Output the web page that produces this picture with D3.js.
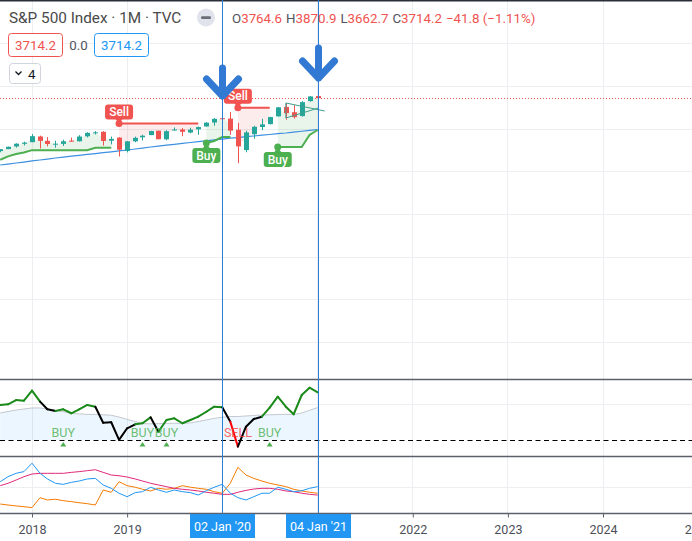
<!DOCTYPE html>
<html><head><meta charset="utf-8">
<script src="https://cdn.jsdelivr.net/npm/d3@7"></script>
<style>
html,body{margin:0;padding:0;background:#fff;}
svg{display:block;font-family:Roboto,"Noto Sans",sans-serif;}
</style></head><body>
<svg id="c" width="692" height="541"></svg>
<script>
// ---------------- DATA ----------------
const months = ["2017-09-01","2017-10-01","2017-11-01","2017-12-01",
"2018-01-01","2018-02-01","2018-03-01","2018-04-01","2018-05-01","2018-06-01","2018-07-01","2018-08-01","2018-09-01","2018-10-01","2018-11-01","2018-12-01",
"2019-01-01","2019-02-01","2019-03-01","2019-04-01","2019-05-01","2019-06-01","2019-07-01","2019-08-01","2019-09-01","2019-10-01","2019-11-01","2019-12-01",
"2020-01-01","2020-02-01","2020-03-01","2020-04-01","2020-05-01","2020-06-01","2020-07-01","2020-08-01","2020-09-01","2020-10-01","2020-11-01","2020-12-01",
"2021-01-01"];
const openP  = [2474.4,2521.2,2583.2,2645.1,2683.7,2816.5,2715.2,2633.5,2643.6,2718.7,2705.0,2821.2,2897.0,2926.3,2717.6,2790.5,2477.0,2702.3,2798.2,2848.6,2952.3,2751.5,2971.4,2980.3,2909.0,2983.7,3050.7,3143.9,3244.7,3235.7,2974.3,2498.1,2869.1,3038.8,3105.9,3288.3,3507.4,3385.9,3296.2,3645.9,3764.6];
const highP  = [2519.4,2582.0,2657.7,2695.0,2872.9,2836.0,2801.9,2717.5,2742.2,2791.5,2848.0,2916.5,2940.9,2939.9,2815.2,2800.2,2709.0,2813.5,2860.3,2949.5,2954.1,2964.2,3028.0,3013.6,3022.0,3050.1,3154.3,3247.9,3337.8,3393.5,3136.7,2954.9,3068.7,3233.1,3280.0,3509.4,3588.1,3549.9,3646.0,3760.2,3870.9];
const lowP   = [2446.6,2520.4,2557.4,2605.5,2682.4,2532.7,2585.9,2553.8,2594.6,2692.0,2699.0,2796.3,2864.1,2603.5,2631.1,2346.6,2444.0,2681.8,2722.3,2848.6,2750.5,2728.8,2952.2,2822.1,2891.9,2855.9,3050.7,3070.3,3214.6,2855.8,2191.9,2447.5,2766.6,2965.7,3101.2,3284.5,3209.5,3233.9,3279.7,3633.4,3662.7];
const closeP = [2519.4,2575.3,2647.6,2673.6,2823.8,2713.8,2640.9,2648.1,2705.3,2718.4,2816.3,2901.5,2914.0,2711.7,2760.2,2506.9,2704.1,2784.5,2834.4,2945.8,2752.1,2941.8,2980.4,2926.5,2976.7,3037.6,3141.0,3230.8,3225.5,2954.2,2584.6,2912.4,3044.3,3100.3,3271.1,3500.3,3363.0,3270.0,3621.6,3756.1,3714.2];
// long moving average (blue)
const maLine = [2149,2171,2196,2218,2243,2266,2288,2313,2335,2357,2376,2398,2417,2439,2458,2480,2500,2524,2546,2571,2593,2615,2634,2656,2676,2698,2716,2739,2757,2777,2792,2812,2828,2847,2863,2882,2899,2920,2939,2961,2981];
// trailing stop (green = long, red = short)
const upStop = [2270,2350,2405,2440,2497,2497,2497,2497,2497,2497,2497,2497,2550,2550,2550,null,null,null,null,null,null,null,null,null,null,null,2664,2711,2805,2805,null,null,null,null,null,2570,2570,2570,2570,2852,2969];
const dnStop = [null,null,null,null,null,null,null,null,null,null,null,null,null,null,null,3121,3121,3121,3121,3121,3121,3121,3121,3121,3121,3121,null,null,null,null,3490,3490,3490,3490,3490,null,null,null,null,null,null];
const buyMonths  = ["2019-11-01","2020-08-01"];
const sellMonths = ["2018-12-01","2020-03-01"];
// oscillator pane
const oscLine = [68.9,69.7,74.4,73.7,84.8,72.6,64.1,62.2,64.1,59.7,64.1,68.9,67.0,49.2,49.7,30.2,43.0,47.4,48.6,55.2,39.2,52.2,54.1,48.6,52.2,55.9,61.4,67.0,66.3,50.3,22.6,44.8,53.3,55.9,65.9,78.1,67.0,58.6,80.0,88.1,83.0];
const oscSignal = [60.0,61.7,63.3,64.4,65.6,65.6,64.5,63.0,61.5,59.5,59.0,58.5,58.5,58.0,57.5,55.5,53.0,50.5,48.2,48.0,48.2,48.5,48.6,48.4,49.0,50.5,52.3,54.0,55.3,56.1,56.1,56.7,57.2,57.8,58.0,58.3,58.5,58.2,60.0,63.0,66.0];
const oscLevel = 30;
const sigMonths = ["2018-05-01","2019-03-01","2019-06-01","2020-03-01","2020-07-01"];
const sigTypes  = ["BUY","BUY","BUY","SELL","BUY"];
// DMI pane
const diPlus  = [24.4,28.6,31.4,32.8,39.8,31.4,26.7,23.1,22.2,23.9,25.0,26.7,27.2,21.7,18.9,14.8,11.9,15.3,16.1,19.8,17.5,15.6,17.5,16.1,15.3,13.3,16.9,19.8,22.2,14.8,11.1,9.2,11.9,14.8,14.8,19.8,18.1,16.1,16.9,18.9,20.3];
const adx     = [21.1,23.1,25.8,28.6,30.8,31.4,31.4,31.4,31.4,32.2,32.8,33.6,34.4,32.2,30.0,29.4,28.3,26.7,25.0,23.1,21.7,20.3,18.9,18.1,17.5,16.7,15.6,14.8,13.9,13.9,15.6,17.2,18.3,18.9,18.9,18.1,16.7,16.1,14.8,13.9,13.3];
const diMinus = [5.8,5.0,4.2,3.6,2.8,11.1,9.2,9.8,8.6,7.8,6.9,6.1,5.0,17.5,15.6,24.4,21.1,19.8,18.1,16.7,18.9,18.1,18.9,21.1,19.8,18.9,18.1,16.1,14.8,23.1,36.4,30.0,27.2,25.0,23.1,21.7,20.3,18.1,16.7,15.6,14.8];
// drawings
const vLineDates  = ["2020-01-02","2021-01-04"];
const vLineLabels = ["02 Jan '20","04 Jan '21"];
const arrowTop = [4422,4891];
const arrowTip = [3766,4187];
const wedgeUpper = [["2020-09-01",3602],["2021-01-28",3414]];
const wedgeLower = [["2020-09-01",3250],["2021-01-04",3484]];
const priceTicks = [5000,4000,3000,2000,1000,0,-1000,-2000];
const gridYears = ["2017","2018","2019","2020","2021","2022","2023","2024","2025"];
const labelYears = ["2018","2019","2022","2023","2024","2025"];
const header = {title:"S&P 500 Index · 1M · TVC", o:"3764.6", h:"3870.9", l:"3662.7", c:"3714.2", chg:"−41.8 (−1.11%)", last:"3714.2", zero:"0.0", count:"4"};

// ---------------- SETUP ----------------
const W=692,H=541;
const UP="#26a69a", DN="#ef5350", GRID="#eceef2", SEP="#5d606b";
const parse=d3.timeParse("%Y-%m-%d");
const x=d3.scaleTime().domain([parse("2018-01-01"),parse("2024-01-01")]).range([32,603]);
const yP=d3.scaleLinear().domain([4000,-2000]).range([86,342]);
const yR=d3.scaleLinear().domain([30,70]).range([440,404]);
const yD=d3.scaleLinear().domain([0,20]).range([511,487]);
const P={main:[0,379.5],osc:[379.5,456.5],dmi:[456.5,513]};
const svg=d3.select("#c");
svg.append("rect").attr("width",W).attr("height",H).attr("fill","#fff");
const defs=svg.append("defs");
Object.entries(P).forEach(([k,[a,b]])=>{
  defs.append("clipPath").attr("id","clip-"+k).append("rect").attr("x",0).attr("y",a).attr("width",W).attr("height",b-a);
});
const bars=months.map((m,i)=>({d:parse(m),o:openP[i],h:highP[i],l:lowP[i],c:closeP[i],
  ma:maLine[i],up:upStop[i],dn:dnStop[i],mid:(openP[i]+highP[i]+lowP[i]+closeP[i])/4,
  osc:oscLine[i],sig:oscSignal[i],pdi:diPlus[i],adx:adx[i],mdi:diMinus[i]}));
const px5=v=>Math.floor(v)+0.5;

// grid
const gGrid=svg.append("g");
gridYears.forEach(t=>{
  const xx=px5(x(parse(t+"-01-01")));
  gGrid.append("line").attr("x1",xx).attr("x2",xx).attr("y1",0).attr("y2",513).attr("stroke",GRID);
});
priceTicks.forEach(p=>{
  const yy=Math.round(yP(p))+0.5;
  if(yy>2&&yy<378) gGrid.append("line").attr("x1",0).attr("x2",W).attr("y1",yy).attr("y2",yy).attr("stroke",GRID);
});
[yR(70),yD(20)].forEach(yy=>{
  yy=Math.round(yy)+0.5;
  gGrid.append("line").attr("x1",0).attr("x2",W).attr("y1",yy).attr("y2",yy).attr("stroke",GRID);
});

// ---------------- MAIN PANE ----------------
const gM=svg.append("g").attr("clip-path","url(#clip-main)");
const X=d=>x(d.d);
gM.append("path").datum(bars).attr("fill","rgba(76,175,80,0.12)")
  .attr("d",d3.area().defined(d=>d.up!=null).x(X).y0(d=>yP(d.mid)).y1(d=>yP(d.up)));
gM.append("path").datum(bars).attr("fill","rgba(239,83,80,0.11)")
  .attr("d",d3.area().defined(d=>d.dn!=null).x(X).y0(d=>yP(d.mid)).y1(d=>yP(d.dn)));
gM.append("path").datum(bars).attr("fill","none").attr("stroke","#3d8fe0").attr("stroke-width",1.2)
  .attr("d",d3.line().x(X).y(d=>yP(d.ma)));
gM.append("path").datum(bars).attr("fill","none").attr("stroke","#4caf50").attr("stroke-width",2)
  .attr("d",d3.line().defined(d=>d.up!=null).x(X).y(d=>yP(d.up)));
gM.append("path").datum(bars).attr("fill","none").attr("stroke","#ef5350").attr("stroke-width",2)
  .attr("d",d3.line().defined(d=>d.dn!=null).x(X).y(d=>yP(d.dn)));
const lastY=Math.round(yP(closeP[closeP.length-1]))+0.5;
gM.append("line").attr("x1",0).attr("x2",W).attr("y1",lastY).attr("y2",lastY)
  .attr("stroke","#ef5350").attr("stroke-dasharray","1,2");
const gC=gM.append("g").selectAll("g").data(bars).join("g");
gC.append("line").attr("x1",d=>Math.round(X(d))+0.5).attr("x2",d=>Math.round(X(d))+0.5)
  .attr("y1",d=>yP(d.h)).attr("y2",d=>yP(d.l)).attr("stroke",d=>d.c>=d.o?UP:DN);
gC.append("rect").attr("x",d=>Math.round(X(d))-2).attr("width",5)
  .attr("y",d=>yP(Math.max(d.o,d.c))).attr("height",d=>Math.max(1,yP(Math.min(d.o,d.c))-yP(Math.max(d.o,d.c))))
  .attr("fill",d=>d.c>=d.o?UP:DN);
[wedgeUpper,wedgeLower].forEach(seg=>{
  gM.append("line").attr("x1",x(parse(seg[0][0]))).attr("y1",yP(seg[0][1]))
    .attr("x2",x(parse(seg[1][0]))).attr("y2",yP(seg[1][1])).attr("stroke","#3f9e8e").attr("stroke-width",1);
});
gM.append("line").attr("x1",x(parse(wedgeUpper[0][0]))).attr("x2",x(parse(wedgeLower[0][0])))
  .attr("y1",yP(wedgeUpper[0][1])).attr("y2",yP(wedgeLower[0][1])).attr("stroke","#3f9e8e");
function sigLabel(m,isBuy){
  const i=months.indexOf(m);
  const px=x(parse(m)), py=yP(isBuy?upStop[i]:dnStop[i]);
  const col=isBuy?"#4caf50":"#f05350";
  const g=gM.append("g");
  g.append("circle").attr("cx",px).attr("cy",py).attr("r",3.5).attr("fill",col);
  const ry=isBuy?py+5:py-19;
  g.append("rect").attr("x",px-14).attr("y",ry).attr("width",28).attr("height",15).attr("rx",3).attr("fill",col);
  g.append("path").attr("d",isBuy?`M${px-4},${ry+1}L${px},${py}L${px+4},${ry+1}Z`:`M${px-4},${ry+14}L${px},${py}L${px+4},${ry+14}Z`).attr("fill",col);
  g.append("text").attr("x",px).attr("y",ry+11.5).attr("text-anchor","middle").attr("fill","#fff")
    .attr("font-size",12).attr("font-weight",500).text(isBuy?"Buy":"Sell");
}
sellMonths.forEach(m=>sigLabel(m,false));
buyMonths.forEach(m=>sigLabel(m,true));

// ---------------- OSC PANE ----------------
const gO=svg.append("g").attr("clip-path","url(#clip-osc)");
gO.append("path").datum(bars).attr("fill","rgba(33,150,243,0.09)")
  .attr("d",d3.area().x(X).y0(yR(oscLevel)).y1(d=>yR(d.sig)));
gO.append("path").datum(bars).attr("fill","none").attr("stroke","#c4c7cf").attr("stroke-width",1)
  .attr("d",d3.line().x(X).y(d=>yR(d.sig)));
const lvlY=Math.round(yR(oscLevel))+0.5;
gO.append("line").attr("x1",0).attr("x2",W).attr("y1",lvlY).attr("y2",lvlY)
  .attr("stroke","#000").attr("stroke-dasharray","5,3.5");
const sellIdx=sigMonths.filter((m,k)=>sigTypes[k]==="SELL").map(m=>months.indexOf(m));
for(let i=1;i<bars.length;i++){
  const a=bars[i-1], b=bars[i];
  const col=sellIdx.includes(i)?"#ff0000":(b.osc>=b.sig?"#1a8a1a":"#000");
  gO.append("line").attr("x1",X(a)).attr("y1",yR(a.osc)).attr("x2",X(b)).attr("y2",yR(b.osc))
    .attr("stroke",col).attr("stroke-width",2).attr("stroke-linecap","round");
}
sigMonths.forEach((m,k)=>{
  const px=x(parse(m));
  const buy=sigTypes[k]==="BUY";
  gO.append("text").attr("x",px).attr("y",436.5).attr("text-anchor","middle").attr("font-size",12.5)
    .attr("fill",buy?"rgba(76,175,80,0.8)":"rgba(255,60,60,0.8)").text(sigTypes[k]);
  if(buy) gO.append("path").attr("d",`M${px-3},446.5L${px},442L${px+3},446.5Z`).attr("fill","#4caf50");
});

// ---------------- DMI PANE ----------------
const gD=svg.append("g").attr("clip-path","url(#clip-dmi)");
[["mdi","#f57c00"],["adx","#e0287a"],["pdi","#2196f3"]].forEach(([k,c])=>{
  gD.append("path").datum(bars).attr("fill","none").attr("stroke",c).attr("stroke-width",1)
    .attr("d",d3.line().x(X).y(d=>yD(d[k])));
});

// separators
[P.main[1],P.osc[1]].forEach(yy=>{
  svg.append("line").attr("x1",0).attr("x2",W).attr("y1",yy).attr("y2",yy).attr("stroke",SEP).attr("stroke-width",1.5);
});
svg.append("line").attr("x1",0).attr("x2",W).attr("y1",513.5).attr("y2",513.5).attr("stroke",SEP).attr("stroke-width",1.5);
svg.append("rect").attr("x",0).attr("y",0).attr("width",W).attr("height",1.5).attr("fill","#2a2e39");

// x axis
const gX=svg.append("g").attr("transform","translate(0,513.5)")
  .call(d3.axisBottom(x).tickValues(labelYears.map(t=>parse(t+"-01-01"))).tickFormat(d3.timeFormat("%Y")).tickSize(4).tickSizeOuter(0));
gX.select(".domain").remove();
gX.selectAll(".tick line").attr("stroke",SEP);
gX.selectAll(".tick text").attr("font-size",12.5).attr("fill","#4c4f59").attr("font-family","Roboto,sans-serif").attr("dy","1.05em");

// vertical date lines + labels + arrows
vLineDates.forEach((dstr,k)=>{
  const xx=px5(x(parse(dstr)));
  svg.append("line").attr("x1",xx).attr("x2",xx).attr("y1",0).attr("y2",513).attr("stroke","#2a7fd4").attr("stroke-width",1);
  svg.append("rect").attr("x",xx-32.5).attr("y",514).attr("width",65).attr("height",24).attr("fill","#2196f3");
  svg.append("text").attr("x",xx).attr("y",530.5).attr("text-anchor","middle").attr("fill","#fff").attr("font-size",12.5).text(vLineLabels[k]);
  const ty=yP(arrowTip[k]), tp=yP(arrowTop[k]);
  svg.append("path").attr("d",`M${xx},${tp}L${xx},${ty}M${xx-16},${ty-17}L${xx},${ty}L${xx+16},${ty-17}`)
    .attr("fill","none").attr("stroke","#3179d2").attr("stroke-width",7).attr("stroke-linecap","round").attr("stroke-linejoin","round");
});

// ---------------- HEADER ----------------
const gH=svg.append("g").attr("font-size",13.3);
gH.append("text").attr("x",9).attr("y",23).attr("font-size",15.3).attr("fill","#4a4a4a").text(header.title);
gH.append("circle").attr("cx",206).attr("cy",17.5).attr("r",9).attr("fill","#e0e3eb");
gH.append("rect").attr("x",201).attr("y",16.3).attr("width",10).attr("height",2.6).attr("rx",1.2).attr("fill","#6a6d78");
const ohlc=gH.append("text").attr("x",232).attr("y",22.5).attr("fill","#ef5350");
[["O",header.o],["H",header.h],["L",header.l],["C",header.c]].forEach(([k,v],i)=>{
  ohlc.append("tspan").attr("fill","#50535e").attr("dx",i?4:0).text(k);
  ohlc.append("tspan").text(v);
});
ohlc.append("tspan").attr("dx",4).text(header.chg);
gH.append("rect").attr("x",8.5).attr("y",33.5).attr("width",54).attr("height",23).attr("rx",3).attr("fill","#fff").attr("stroke","#ef5350");
gH.append("text").attr("x",35.5).attr("y",49.5).attr("text-anchor","middle").attr("fill","#ef5350").text(header.last);
gH.append("text").attr("x",78.5).attr("y",49.5).attr("text-anchor","middle").attr("fill","#50535e").text(header.zero);
gH.append("rect").attr("x",94.5).attr("y",33.5).attr("width",54).attr("height",23).attr("rx",3).attr("fill","#fff").attr("stroke","#2196f3");
gH.append("text").attr("x",121.5).attr("y",49.5).attr("text-anchor","middle").attr("fill","#2196f3").text(header.last);
gH.append("rect").attr("x",9.5).attr("y",63.5).attr("width",31).attr("height",20).attr("rx",3).attr("fill","#fff").attr("stroke","#d1d4dc");
gH.append("path").attr("d","M15.5,71.5L18.5,74.5L21.5,71.5").attr("fill","none").attr("stroke","#131722").attr("stroke-width",1.3);
gH.append("text").attr("x",28).attr("y",78.5).attr("fill","#131722").text(header.count);
</script>
</body></html>
